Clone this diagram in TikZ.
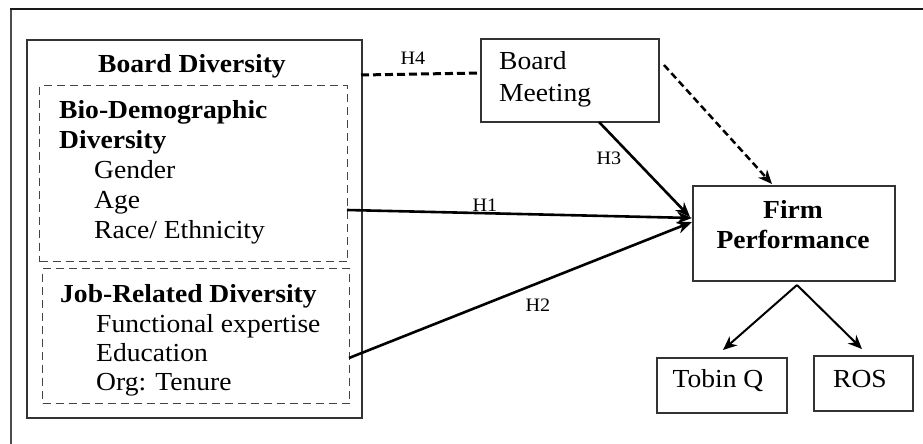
\documentclass[tikz,border=0pt]{standalone}
\usepackage{fontspec}
\setmainfont{Liberation Serif}[FakeStretch=1.06]
\usetikzlibrary{arrows.meta}
\newcommand\mainsz{\fontsize{26}{30}\selectfont}
\newcommand\hsz{\fontsize{19}{22}\selectfont}
\definecolor{boxline}{HTML}{333333}
\definecolor{dashline}{HTML}{444444}
\tikzset{
  solidbox/.style={draw=boxline, line width=1.8pt, inner sep=0pt, anchor=north west},
  dashbox/.style={draw=dashline, line width=1.3pt, dash pattern=on 8pt off 5pt, inner sep=0pt, anchor=north west},
  txt/.style={inner sep=0pt, anchor=base west, font=\mainsz},
  btxt/.style={inner sep=0pt, anchor=base west, font=\mainsz\bfseries},
  ctxt/.style={inner sep=0pt, anchor=base, font=\mainsz},
  cbtxt/.style={inner sep=0pt, anchor=base, font=\mainsz\bfseries},
  hlab/.style={inner sep=0pt, anchor=base, font=\hsz},
  solidarrow/.style={line width=2.6pt, -{Stealth[length=15pt,width=12pt]}},
  treearrow/.style={line width=2pt, -{Stealth[length=14pt,width=12pt]}},
  dasharrow/.style={line width=2.5pt, dash pattern=on 7pt off 4pt, -{Stealth[length=14pt,width=12pt]}},
  dashlink/.style={line width=3pt, dash pattern=on 8pt off 4pt},
}
\begin{document}
\begin{tikzpicture}[x=1pt,y=-1pt]
\useasboundingbox (0,0) rectangle (923,444);
\fill[white] (0,0) rectangle (923,444);
% outer frame (partial)
\draw[line width=2pt, black!70] (11,444) -- (11,9);
\draw[line width=2.4pt, black!90] (10,9) -- (923,9);

% Board Diversity box
\node[solidbox, minimum width=335pt, minimum height=378pt] (bd) at (26,39) {};
\node[cbtxt] (bdt) at (192,72) {Board Diversity};
\node[dashbox, minimum width=308pt, minimum height=176pt] (bio) at (39,85) {};
\node[btxt] (bio1) at (59,118) {Bio-Demographic};
\node[btxt] (bio2) at (59,148) {Diversity};
\node[txt] (g1) at (94,178) {Gender};
\node[txt] (g2) at (94,208) {Age};
\node[txt] (g3) at (94,238) {Race/ Ethnicity};
\node[dashbox, minimum width=307pt, minimum height=135pt] (job) at (42,268) {};
\node[btxt] (job1) at (60,302) {Job-Related Diversity};
\node[txt] (j1) at (96,332) {Functional expertise};
\node[txt] (j2) at (96,361) {Education};
\node[txt] (j3) at (96,390) {Org: Tenure};

% Board Meeting
\node[solidbox, minimum width=178pt, minimum height=83pt] (bm) at (480,38) {};
\node[txt] (bm1) at (499,70) {Board};
\node[txt] (bm2) at (499,101) {Meeting};

% Firm Performance
\node[solidbox, minimum width=202pt, minimum height=95pt] (fp) at (692,185) {};
\node[cbtxt] (fp1) at (793,218) {Firm};
\node[cbtxt] (fp2) at (793,248) {Performance};

% Tobin Q and ROS
\node[solidbox, minimum width=130pt, minimum height=55pt] (tq) at (656,357) {};
\node[ctxt] (tqt) at (718,387) {Tobin Q};
\node[solidbox, minimum width=99pt, minimum height=55pt] (ros) at (813,355) {};
\node[ctxt] (rost) at (860,387) {ROS};

% connector end points
\coordinate (h4a) at (361,75);
\coordinate (h4b) at (480,73);
\coordinate (h1a) at (347,210);
\coordinate (h1b) at (692,218);
\coordinate (h2a) at (349,358);
\coordinate (h2b) at (692,222);
\coordinate (h3a) at (599,122);
\coordinate (h3b) at (690,217);
\coordinate (dma) at (664,65);
\coordinate (dmb) at (772,184);
\coordinate (fpo) at (797,285);
\coordinate (tqi) at (723,350);
\coordinate (rosi) at (862,349);

\draw[dashlink] (h4a) -- (h4b);
\draw[solidarrow] (h1a) -- (h1b);
\draw[solidarrow] (h2a) -- (h2b);
\draw[solidarrow] (h3a) -- (h3b);
\draw[dasharrow] (dma) -- (dmb);
\draw[treearrow] (fpo) -- (tqi);
\draw[treearrow] (fpo) -- (rosi);

% labels
\node[hlab] (l4) at (413,64) {H4};
\node[hlab] (l1) at (485,211) {H1};
\node[hlab] (l3) at (609,164) {H3};
\node[hlab] (l2) at (538,311) {H2};
\end{tikzpicture}
\end{document}
